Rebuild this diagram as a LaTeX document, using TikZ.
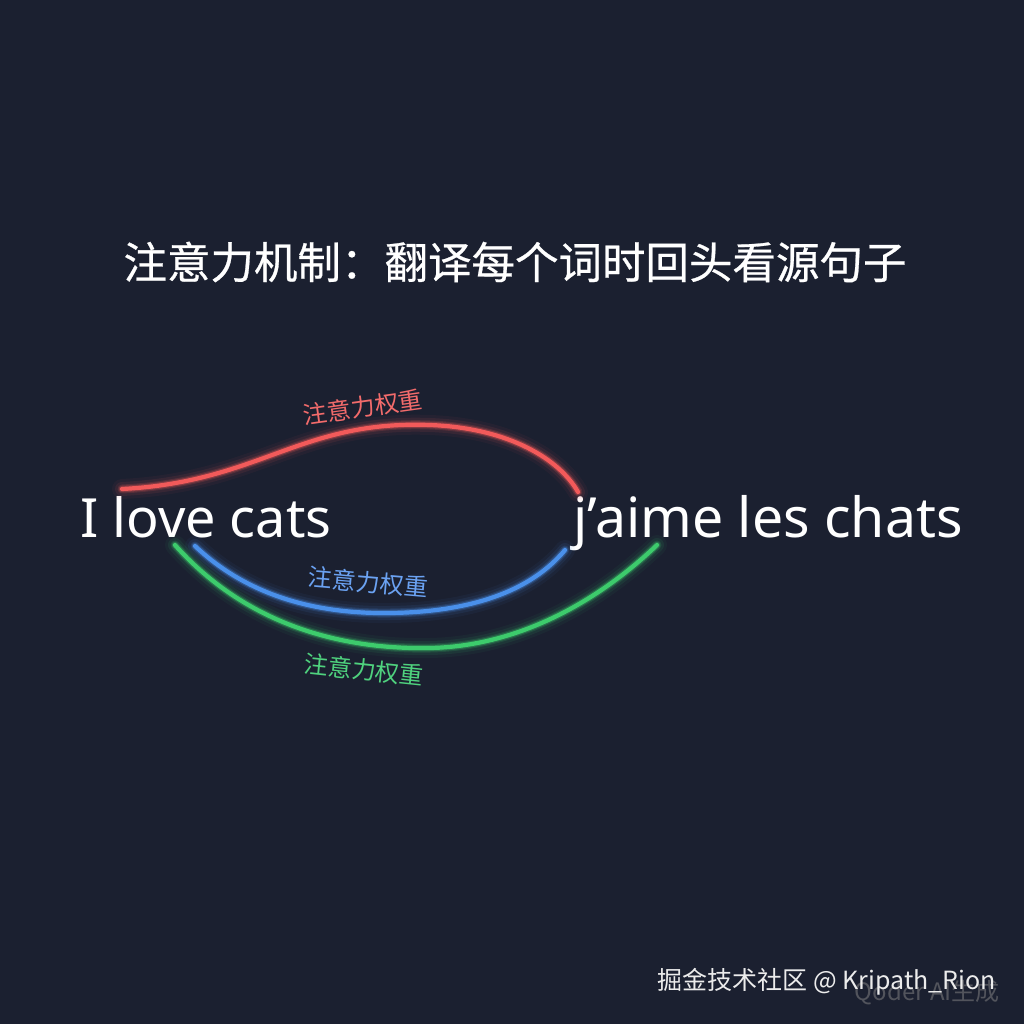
\documentclass[tikz,border=0pt]{standalone}
\usepackage{fontspec}
\setmainfont{Noto Sans}
\newfontfamily\cjk{Noto Sans CJK SC}
\newfontfamily\cjkb[FakeBold=0.6]{Noto Sans CJK SC}
\definecolor{bg}{HTML}{1B2030}
\definecolor{cred}{HTML}{F25A5A}
\definecolor{cblue}{HTML}{4A90EA}
\definecolor{cgreen}{HTML}{3DCB6C}
\definecolor{lred}{HTML}{F26B6B}
\definecolor{lblue}{HTML}{6BA2F2}
\definecolor{lgreen}{HTML}{4FD27E}
\begin{document}
\begin{tikzpicture}[x=1pt,y=-1pt,
  glow/.style={line cap=round, line width=#1},
  words/.style={text=white, inner sep=0pt, anchor=base},
  wlabel/.style={font=\cjk\fontsize{24}{26}\selectfont, inner sep=0pt}]
\fill[bg] (0,0) rectangle (1024,1024);
\useasboundingbox (0,0) rectangle (1024,1024);

\node[text=white, font=\cjkb\fontsize{43.5}{48}\selectfont, inner sep=0pt] (title) at (515,262) {注意力机制：翻译每个词时回头看源句子};

\node[words, anchor=base west, font=\fontsize{54}{60}\selectfont] (src) at (80,537) {I love cats};
\node[words, anchor=base west, font=\fontsize{55.4}{60}\selectfont] (tgt) at (573,537) {j’aime les chats};

\coordinate (r0) at (122,489); \coordinate (r1) at (430,425); \coordinate (r2) at (578,492);
\coordinate (b0) at (195,546); \coordinate (b1) at (390,613); \coordinate (b2) at (565,550);
\coordinate (g0) at (175,545); \coordinate (g1) at (430,648); \coordinate (g2) at (657,545);

\foreach \w/\o in {20/0.05, 14/0.09, 9/0.16, 6.5/0.3, 4.2/1} {
  \draw[cred, glow=\w, opacity=\o] (r0) .. controls (260,482) and (300,420) .. (r1) .. controls (510,428) and (560,460) .. (r2);
  \draw[cblue, glow=\w, opacity=\o] (b0) .. controls (250,598) and (320,614) .. (b1) .. controls (470,612) and (530,592) .. (b2);
  \draw[cgreen, glow=\w, opacity=\o] (g0) .. controls (240,618) and (330,650) .. (g1) .. controls (530,646) and (610,590) .. (g2);
}

\node[wlabel, text=lred, rotate=8] (lr) at (363,407) {注意力权重};
\node[wlabel, text=lblue, rotate=-5] (lb) at (368,582) {注意力权重};
\node[wlabel, text=lgreen, rotate=-6] (lg) at (364,670) {注意力权重};

\node[text=gray!55!bg, font=\cjk\fontsize{24}{26}\selectfont, inner sep=0pt, anchor=east] (qoder) at (1000,993) {Qoder AI生成};
\node[text=white!85!gray, font=\cjk\fontsize{25}{27}\selectfont, inner sep=0pt, anchor=east] (wm) at (996,982) {掘金技术社区 @ Kripath\_Rion};
\end{tikzpicture}
\end{document}
